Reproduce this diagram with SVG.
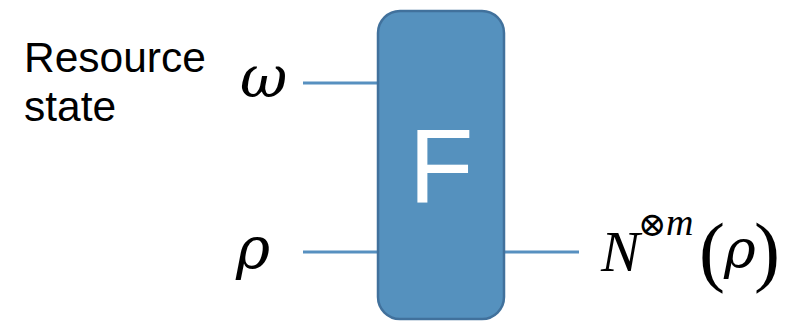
<svg xmlns="http://www.w3.org/2000/svg" width="795" height="321" viewBox="0 0 795 321">
<style>
.wire{stroke:#5790C0;stroke-width:3;fill:none}
.lbl{font-family:"Liberation Sans",Arial,sans-serif;font-size:42.5px;fill:#000}
.math{font-family:"Liberation Serif","Times New Roman",serif;font-style:italic;fill:#000}
.greek{font-family:"DejaVu Serif",serif;font-style:italic;fill:#000}
.rm{font-family:"Liberation Serif","Times New Roman",serif;fill:#000}
.sym{font-family:"DejaVu Serif",serif;fill:#000}
</style>
<rect width="795" height="321" fill="#ffffff"/>
<g id="connectors">
<line class="wire" x1="303" y1="83" x2="378" y2="83"/>
<line class="wire" x1="303" y1="252" x2="378" y2="252"/>
<line class="wire" x1="504" y1="252" x2="579" y2="252"/>
</g>
<g id="label-resource">
<text class="lbl" x="24" y="72">Resource</text>
<text class="lbl" x="24" y="121">state</text>
</g>
<g id="omega">
<text class="greek" x="240" y="97" font-size="58">ω</text>
</g>
<g id="rho">
<text class="greek" x="236" y="268" font-size="58">ρ</text>
</g>
<g id="F">
<rect x="378" y="11" width="126" height="308" rx="22" ry="22" fill="#5591BE" stroke="#41719C" stroke-width="2.5"/>
<text x="441" y="203" text-anchor="middle" font-family="'Liberation Sans',Arial,sans-serif" font-size="106" fill="#ffffff">F</text>
</g>
<g id="output">
<text class="math" x="601" y="271" font-size="58">N</text>
<text class="sym" x="638" y="236" font-size="34">⊗</text>
<text class="math" x="666" y="235" font-size="38">m</text>
<text class="rm" x="699" y="277" font-size="78">(</text>
<text class="greek" x="724" y="268" font-size="54">ρ</text>
<text class="rm" x="754" y="277" font-size="78">)</text>
</g>
</svg>
